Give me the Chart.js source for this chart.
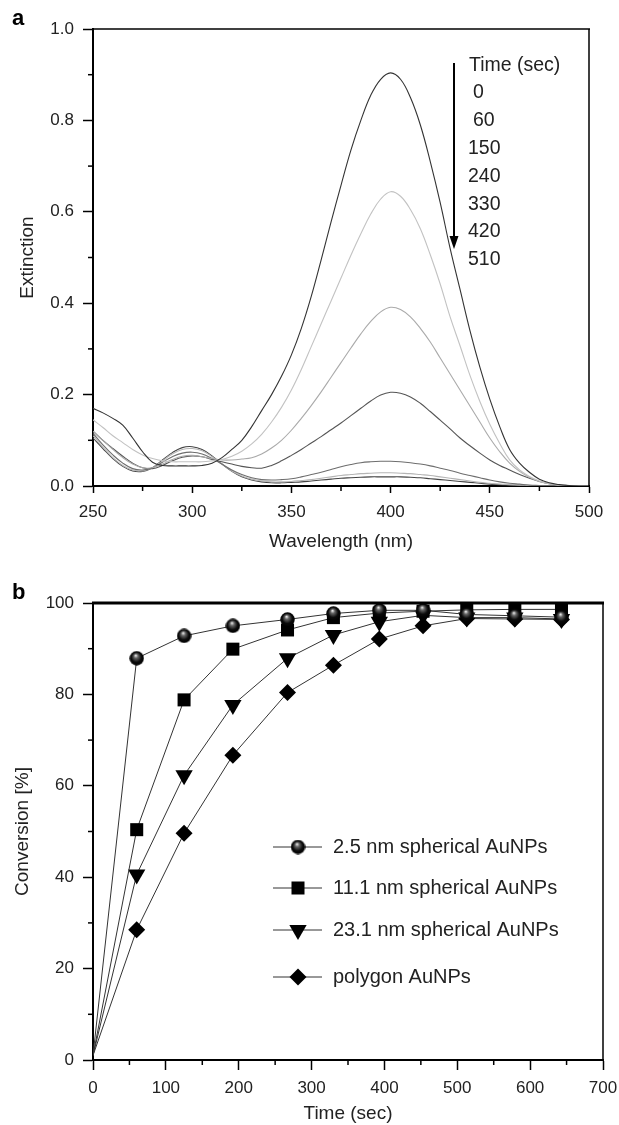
<!DOCTYPE html>
<html>
<head>
<meta charset="utf-8">
<script src="https://cdn.jsdelivr.net/npm/chart.js@4.4.1/dist/chart.umd.min.js"></script>
<style>
  html, body { margin: 0; padding: 0; background: #fff; }
  #panelA { position: absolute; left: 0; top: 0; }
  #panelB { position: absolute; left: 0; top: 560px; }
</style>
</head>
<body>
<canvas id="panelA" width="619" height="560"></canvas>
<canvas id="panelB" width="619" height="565"></canvas>
<script>
// ---- panel a: extinction spectra ----
const wavelength = [250,255,260,265,270,275,280,285,290,295,300,305,310,315,320,325,330,335,340,345,
  350,355,360,365,370,375,380,385,390,395,400,405,410,415,420,425,430,435,440,445,
  450,455,460,465,470,475,480,485,490,495,500];
const timeLabels = ['0', '60', '150', '240', '330', '420', '510'];

const ext0 = [0.170,0.160,0.148,0.133,0.105,0.075,0.052,0.045,0.044,0.044,0.044,
  0.045,0.050,0.062,0.080,0.100,0.130,0.165,0.200,0.240,0.287,
  0.345,0.415,0.495,0.578,0.658,0.735,0.800,0.855,0.890,0.904,
  0.890,0.850,0.790,0.710,0.620,0.520,0.430,0.340,0.260,0.190,
  0.130,0.080,0.050,0.030,0.015,0.007,0.003,0.001,0,0];
const ext60 = [0.145,0.128,0.110,0.095,0.080,0.068,0.060,0.055,0.053,0.053,0.053,
  0.053,0.055,0.058,0.065,0.076,0.092,0.113,0.140,0.172,0.210,
  0.255,0.305,0.355,0.405,0.455,0.505,0.552,0.595,0.628,0.644,
  0.634,0.605,0.563,0.506,0.442,0.370,0.307,0.242,0.185,0.135,
  0.093,0.057,0.035,0.021,0.011,0.005,0.002,0.001,0,0];
const ext150 = [0.120,0.100,0.080,0.062,0.048,0.040,0.040,0.048,0.058,0.065,0.067,
  0.064,0.060,0.057,0.057,0.059,0.062,0.070,0.083,0.100,0.122,
  0.148,0.176,0.206,0.238,0.270,0.302,0.333,0.360,0.381,0.391,
  0.386,0.370,0.345,0.315,0.280,0.245,0.210,0.175,0.140,0.105,
  0.075,0.050,0.032,0.019,0.010,0.005,0.002,0.001,0,0];
const ext240 = [0.120,0.100,0.082,0.065,0.050,0.040,0.038,0.045,0.055,0.063,0.066,
  0.064,0.058,0.053,0.048,0.043,0.040,0.039,0.045,0.055,0.067,
  0.080,0.094,0.108,0.123,0.138,0.154,0.170,0.186,0.199,0.205,
  0.203,0.195,0.181,0.163,0.144,0.125,0.105,0.088,0.072,0.057,
  0.045,0.035,0.025,0.017,0.010,0.005,0.002,0.001,0,0];
const ext330 = [0.115,0.090,0.068,0.050,0.038,0.035,0.040,0.052,0.064,0.072,0.074,
  0.070,0.060,0.048,0.035,0.025,0.018,0.014,0.013,0.014,0.016,
  0.020,0.025,0.030,0.036,0.042,0.047,0.051,0.053,0.054,0.054,
  0.053,0.051,0.048,0.044,0.039,0.034,0.028,0.023,0.018,0.013,
  0.009,0.006,0.004,0.002,0.001,0,0,0,0,0];
const ext420 = [0.110,0.085,0.062,0.045,0.035,0.033,0.040,0.055,0.070,0.080,0.082,
  0.077,0.064,0.048,0.033,0.022,0.015,0.011,0.009,0.009,0.010,
  0.012,0.014,0.017,0.020,0.023,0.025,0.027,0.028,0.029,0.029,
  0.028,0.027,0.025,0.023,0.020,0.017,0.014,0.011,0.008,0.006,
  0.004,0.003,0.002,0.001,0,0,0,0,0,0];
const ext510 = [0.105,0.082,0.060,0.043,0.033,0.032,0.040,0.057,0.073,0.084,0.086,
  0.080,0.066,0.048,0.032,0.020,0.013,0.009,0.007,0.007,0.008,
  0.009,0.011,0.013,0.015,0.017,0.018,0.019,0.020,0.020,0.020,
  0.020,0.019,0.018,0.016,0.014,0.012,0.010,0.008,0.006,0.004,
  0.003,0.002,0.001,0,0,0,0,0,0,0];
const spectra = [ext0, ext60, ext150, ext240, ext330, ext420, ext510];
const curveColors = ['#333333', '#c2c2c2', '#aaaaaa', '#555555', '#6e6e6e', '#b5b5b5', '#444444'];

const wavelengthMinor = [275, 325, 375, 425, 475];
const extinctionMinor = [0.1, 0.3, 0.5, 0.7, 0.9];

// ---- panel b: conversion vs time ----
const timeSec = [0, 60, 125, 192, 267, 330, 393, 453, 513, 579, 643];
const conv25 = [1, 87.9, 92.8, 95.0, 96.4, 97.7, 98.4, 98.4, 97.5, 97.2, 96.9];
const conv111 = [1, 50.4, 78.8, 89.9, 94.1, 96.8, 97.8, 98.2, 98.5, 98.6, 98.6];
const conv231 = [1, 40.6, 62.3, 77.7, 87.9, 93.0, 95.9, 97.3, 96.8, 96.8, 96.5];
const convPoly = [1, 28.5, 49.6, 66.7, 80.4, 86.4, 92.1, 95.0, 96.6, 96.5, 96.4];
const seriesNames = ['2.5 nm spherical AuNPs', '11.1 nm spherical AuNPs', '23.1 nm spherical AuNPs', 'polygon AuNPs'];

const timeMinor = [50, 150, 250, 350, 450, 550, 650];
const conversionMinor = [10, 30, 50, 70, 90];

const FONT = '"Liberation Sans", Arial, Helvetica, sans-serif';
Chart.defaults.font.family = FONT;
Chart.defaults.font.size = 17;
Chart.defaults.color = '#222';

// black sphere marker with a small highlight
function makeSphere(d) {
    const c = document.createElement('canvas');
    c.width = d; c.height = d;
    const g = c.getContext('2d');
    const r = d / 2;
    const grad = g.createRadialGradient(r - 1, r - 3, 0.3, r, r, r);
    grad.addColorStop(0, '#eeeeee');
    grad.addColorStop(0.25, '#666');
    grad.addColorStop(0.65, '#0a0a0a');
    grad.addColorStop(1, '#000');
    g.fillStyle = grad;
    g.beginPath();
    g.arc(r, r, r - 0.3, 0, Math.PI * 2);
    g.fill();
    return c;
}
const sphere = makeSphere(15);

// minor ticks drawn through the scales
const minorTicks = {
    id: 'minorTicks',
    afterDraw(chart, args, opts) {
        const { ctx, chartArea, scales } = chart;
        ctx.save();
        ctx.strokeStyle = '#000';
        ctx.lineWidth = 1.5;
        opts.x.forEach(v => {
            const px = scales.x.getPixelForValue(v);
            ctx.beginPath();
            ctx.moveTo(px, chartArea.bottom);
            ctx.lineTo(px, chartArea.bottom + opts.len);
            ctx.stroke();
        });
        opts.y.forEach(v => {
            const py = scales.y.getPixelForValue(v);
            ctx.beginPath();
            ctx.moveTo(chartArea.left, py);
            ctx.lineTo(chartArea.left - opts.len, py);
            ctx.stroke();
        });
        ctx.restore();
    }
};

// top and right frame lines + panel letter
const frame = {
    id: 'frame',
    afterDraw(chart, args, opts) {
        const { ctx, chartArea } = chart;
        ctx.save();
        ctx.strokeStyle = '#000';
        ctx.lineWidth = opts.topWidth;
        ctx.beginPath();
        ctx.moveTo(chartArea.left - 1, chartArea.top);
        ctx.lineTo(chartArea.right + 1, chartArea.top);
        ctx.stroke();
        ctx.lineWidth = 1.5;
        ctx.beginPath();
        ctx.moveTo(chartArea.right, chartArea.top);
        ctx.lineTo(chartArea.right, chartArea.bottom);
        ctx.stroke();
        ctx.fillStyle = '#000';
        ctx.font = 'bold 22px ' + FONT;
        ctx.textBaseline = 'middle';
        ctx.fillText(opts.letter, 12, opts.letterY);
        ctx.restore();
    }
};

// "Time (sec)" list with the downward arrow
const timeLegend = {
    id: 'timeLegend',
    afterDraw(chart) {
        const ctx = chart.ctx;
        ctx.save();
        ctx.strokeStyle = '#000';
        ctx.fillStyle = '#000';
        ctx.lineWidth = 2;
        ctx.beginPath();
        ctx.moveTo(454, 63);
        ctx.lineTo(454, 240);
        ctx.stroke();
        ctx.beginPath();
        ctx.moveTo(449.5, 236);
        ctx.lineTo(458.5, 236);
        ctx.lineTo(454, 249);
        ctx.closePath();
        ctx.fill();
        ctx.fillStyle = '#222';
        ctx.font = '19.5px ' + FONT;
        ctx.textBaseline = 'middle';
        ctx.fillText('Time (sec)', 469, 66);
        timeLabels.forEach((t, i) => {
            const x = t.length < 3 ? 473 : 468;
            ctx.fillText(t, x, 93 + i * 27.8);
        });
        ctx.restore();
    }
};

const legendRowY = [287, 328, 370, 417];
const markerRadius = [7.5, 9.2, 10, 8.5];

const convLegend = {
    id: 'convLegend',
    afterDraw(chart) {
        const ctx = chart.ctx;
        ctx.save();
        ctx.font = '20px ' + FONT;
        ctx.textBaseline = 'middle';
        chart.data.datasets.forEach((ds, i) => {
            const y = legendRowY[i];
            ctx.strokeStyle = '#333';
            ctx.lineWidth = 1;
            ctx.beginPath();
            ctx.moveTo(273, y);
            ctx.lineTo(322, y);
            ctx.stroke();
            ctx.fillStyle = '#000';
            Chart.helpers.drawPoint(ctx, {
                pointStyle: ds.pointStyle,
                radius: markerRadius[i],
                rotation: ds.pointRotation || 0,
                borderWidth: 0
            }, 298, y);
            ctx.fillStyle = '#222';
            ctx.fillText(ds.label, 333, y);
        });
        ctx.restore();
    }
};

const axisGrid = len => ({ drawOnChartArea: false, tickLength: len, tickWidth: 1.5, tickColor: '#000' });
const axisBorder = { color: '#000', width: 2 };
// fixed axis boxes so the plot areas sit where the reference has them
const fixHeight = h => s => { s.height = h; s.paddingLeft = 0; s.paddingRight = 0; };
const fixWidth = w => s => { s.width = w; };

// panel a
new Chart(document.getElementById('panelA'), {
    type: 'line',
    data: {
        datasets: spectra.map((s, i) => ({
            label: timeLabels[i],
            data: wavelength.map((w, j) => ({ x: w, y: s[j] })),
            borderColor: curveColors[i],
            borderWidth: 1.1,
            pointRadius: 0,
            tension: 0.4
        }))
    },
    options: {
        responsive: false,
        animation: false,
        layout: { padding: { top: 29, right: 30, left: 0, bottom: 0 } },
        plugins: {
            legend: { display: false },
            tooltip: { enabled: false },
            minorTicks: { x: wavelengthMinor, y: extinctionMinor, len: 5 },
            frame: { topWidth: 1.5, letter: 'a', letterY: 19 }
        },
        scales: {
            x: {
                type: 'linear', min: 250, max: 500,
                ticks: { stepSize: 50, padding: 9, color: '#222' },
                grid: axisGrid(7),
                border: axisBorder,
                title: { display: true, text: 'Wavelength (nm)', font: { size: 19 }, padding: { top: 0, bottom: 7 } },
                afterFit: fixHeight(74)
            },
            y: {
                min: 0, max: 1,
                ticks: { stepSize: 0.2, padding: 9, color: '#222', callback: v => v.toFixed(1) },
                grid: axisGrid(10),
                border: axisBorder,
                title: { display: true, text: 'Extinction', font: { size: 19 }, padding: { top: 16, bottom: 0 } },
                afterFit: fixWidth(93)
            }
        }
    },
    plugins: [minorTicks, frame, timeLegend]
});

// panel b
const convSeries = [conv25, conv111, conv231, convPoly];
const convStyles = [sphere, 'rect', 'triangle', 'rectRot'];
const convRotation = [0, 0, 180, 0];

new Chart(document.getElementById('panelB'), {
    type: 'line',
    data: {
        datasets: convSeries.map((s, i) => ({
            label: seriesNames[i],
            data: timeSec.map((t, j) => ({ x: t, y: s[j] })),
            borderColor: '#333',
            borderWidth: 1,
            backgroundColor: '#000',
            pointBackgroundColor: '#000',
            pointBorderWidth: 0,
            pointStyle: convStyles[i],
            pointRotation: convRotation[i],
            pointRadius: ctx => (ctx.dataIndex === 0 ? 0 : markerRadius[i]),
            tension: 0
        }))
    },
    options: {
        responsive: false,
        animation: false,
        layout: { padding: { top: 43, right: 16, left: 0, bottom: 0 } },
        plugins: {
            legend: { display: false },
            tooltip: { enabled: false },
            minorTicks: { x: timeMinor, y: conversionMinor, len: 5 },
            frame: { topWidth: 3, letter: 'b', letterY: 33 }
        },
        scales: {
            x: {
                type: 'linear', min: 0, max: 700,
                ticks: { stepSize: 100, padding: 8, color: '#222' },
                grid: axisGrid(10),
                border: axisBorder,
                title: { display: true, text: 'Time (sec)', font: { size: 19 }, padding: { top: 0, bottom: 0 } },
                afterFit: fixHeight(65)
            },
            y: {
                min: 0, max: 100,
                ticks: { stepSize: 20, padding: 9, color: '#222' },
                grid: axisGrid(10),
                border: axisBorder,
                title: { display: true, text: 'Conversion [%]', font: { size: 19 }, padding: { top: 11, bottom: 0 } },
                afterFit: fixWidth(93)
            }
        }
    },
    plugins: [minorTicks, frame, convLegend]
});
</script>
</body>
</html>
